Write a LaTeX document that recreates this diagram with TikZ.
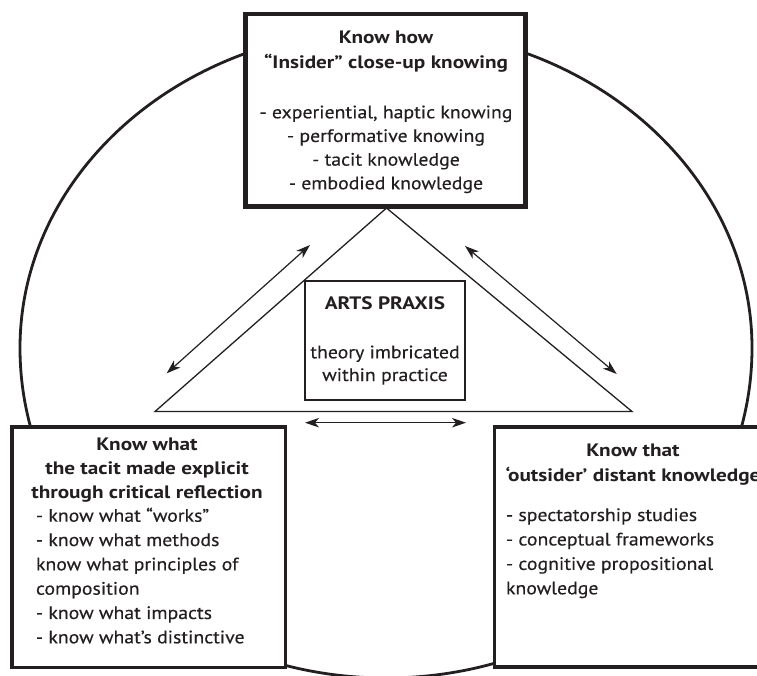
\documentclass[tikz,border=0pt]{standalone}
\usepackage{fontspec}
\setmainfont{PT Sans}[FakeStretch=1.1,FakeBold=0.3]
\newfontfamily\boldface{PT Sans}[FakeStretch=1.18]
\usetikzlibrary{arrows.meta}
\definecolor{ink}{RGB}{35,31,32}
\newcommand{\setsz}[1]{\fontsize{18}{#1}\selectfont}
\begin{document}
\begin{tikzpicture}[x=1pt,y=-1pt,
  txt/.style={inner sep=0pt,outer sep=0pt,text=ink},
  frame/.style={draw=ink,fill=white,rectangle,inner sep=0pt},
  link/.style={draw=ink,line width=1.2pt,{Stealth[length=14pt,width=9.5pt,inset=4pt]}-{Stealth[length=14pt,width=9.5pt,inset=4pt]}}
]
\useasboundingbox (0,0) rectangle (757,675);
\clip (0,0) rectangle (757,675);
% outer loop
\draw[ink,line width=2.8pt] (752,348) arc[start angle=0,end angle=180,x radius=366pt,y radius=319pt]
  arc[start angle=180,end angle=360,x radius=366pt,y radius=330pt];
% triangle
\coordinate (apex) at (386.5,208);
\coordinate (baseL) at (155,411.5);
\coordinate (baseR) at (632,411.5);
\draw[ink,line width=1.3pt,line join=miter] (apex) -- (baseL) -- (baseR) -- cycle;
% centre box
\node[frame,line width=2.8pt,minimum width=160pt,minimum height=119pt] (midBox) at (385,340.5) {};
\node[txt,anchor=base,font=\boldface\bfseries\setsz{24}] (midHead) at (385,309.3) {ARTS PRAXIS};
\node[txt,anchor=base,align=center,font=\setsz{22.7}] (midText) at (385,381) {theory imbricated\\within practice};
% arrows
\coordinate (aL1) at (166.7,373.3);
\coordinate (aL2) at (310,245);
\coordinate (aR1) at (465,246);
\coordinate (aR2) at (616.7,374);
\coordinate (aB1) at (305,422.7);
\coordinate (aB2) at (466,422.7);
\draw[link] (aL1) -- (aL2);
\draw[link] (aR1) -- (aR2);
\draw[link] (aB1) -- (aB2);
% top box
\node[frame,line width=4.8pt,minimum width=280pt,minimum height=192.5pt] (topBox) at (385.5,110.25) {};
\node[txt,anchor=base,align=center,font=\boldface\bfseries\setsz{25}] (topHead) at (386,68.3) {Know how\\“Insider” close-up knowing};
\node[txt,anchor=base,align=center,font=\setsz{23.67}] (topList) at (386,189.3) {- experiential, haptic knowing\\- performative knowing\\- tacit knowledge\\- embodied knowledge};
% left box
\node[frame,line width=3.6pt,minimum width=273.5pt,minimum height=240.5pt] (leftBox) at (148.75,547.25) {};
\node[txt,anchor=base,align=center,font=\boldface\bfseries\setsz{23.8}] (leftHead) at (147,498.3) {Know what\\the tacit made explicit\\through critical reflection};
\node[txt,anchor=base west,align=left,font=\setsz{24.32}] (leftList) at (36,643.3) {- know what “works”\\- know what methods\\know what principles of\\composition\\- know what impacts\\- know what’s distinctive};
% right box
\node[frame,line width=3.6pt,minimum width=275.5pt,minimum height=240pt] (rightBox) at (632.25,547) {};
\node[txt,anchor=base,align=center,font=\boldface\bfseries\setsz{24.3}] (rightHead) at (633,481) {Know that\\‘outsider’ distant knowledge};
\node[txt,anchor=base west,align=left,font=\setsz{24.43}] (rightList) at (506,594.3) {- spectatorship studies\\- conceptual frameworks\\- cognitive propositional\\knowledge};
\end{tikzpicture}
\end{document}
